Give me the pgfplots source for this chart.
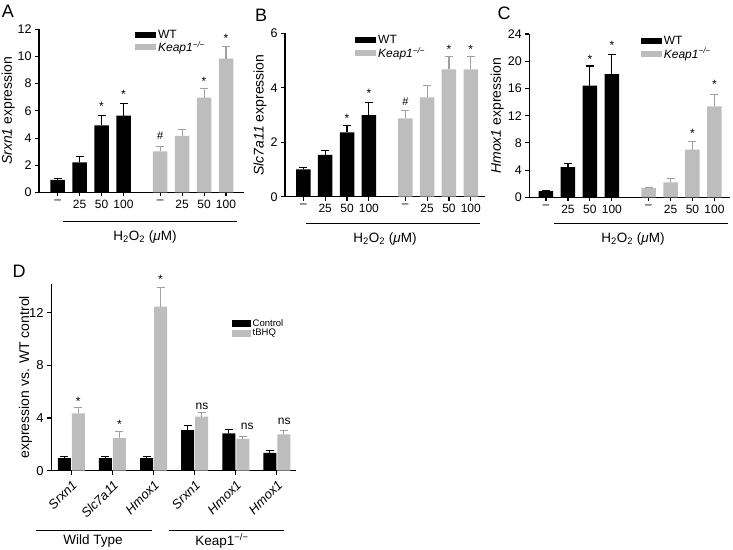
\documentclass[border=0pt]{standalone}
\usepackage{fontspec}
\setmainfont{Liberation Sans}
\usepackage{pgfplots}
\pgfplotsset{compat=1.18}
\definecolor{barg}{RGB}{189,189,189}
\definecolor{errg}{RGB}{160,160,160}
\newcommand{\fs}[1]{\fontsize{#1}{#1}\selectfont}
\newcommand{\KO}{\textit{Keap1}\textsuperscript{\textit{−/−}}}
\pgfplotsset{
  panel/.style={
    scale only axis, anchor=south west, clip=false,
    axis x line*=bottom, axis y line*=left,
    axis line style={line width=1.1pt, -},
    tick align=outside, major tick length=4pt,
    every tick/.style={line width=1.1pt, black},
    ymin=0,
    /pgf/number format/assume math mode=true,
    yticklabel style={font=\fs{12.5}},
    xticklabel style={font=\fs{12}},
    legend cell align=left,
    legend style={draw=none, fill=none, font=\fs{12}, inner sep=0pt, row sep=-2pt},
  },
  h2o2/.style={
    xtick={0,1,2,3,4.67,5.67,6.67,7.67},
    xticklabels={--,25,50,100,--,25,50,100},
  },
  ylab/.style={every axis y label/.style={at={(axis description cs:#1,0.5)}, rotate=90, anchor=center, font=\fs{14}}},
  wt/.style={ybar, bar shift=0pt, bar width=#1, fill=black, draw=none,
    legend image code/.code={\fill[black] (0pt,-3pt) rectangle (21pt,3pt);},
    error bars/.cd, y dir=plus, y explicit,
    error bar style={line width=1.1pt, black},
    error mark options={rotate=90, mark size=4pt, line width=1.1pt, black}},
  ko/.style={ybar, bar shift=0pt, bar width=#1, fill=barg, draw=none,
    legend image code/.code={\fill[barg] (0pt,-3pt) rectangle (21pt,3pt);},
    error bars/.cd, y dir=plus, y explicit,
    error bar style={line width=1.1pt, errg},
    error mark options={rotate=90, mark size=4pt, line width=1.1pt, errg}},
}
\begin{document}
\begin{tikzpicture}
\path[use as bounding box] (0,0) rectangle (733pt,549pt);

% ---------------- A ----------------
\begin{axis}[panel, h2o2, at={(39pt,356.5pt)}, width=205pt, height=163.3pt,
  xmin=-0.85, xmax=8.49, ymax=12, ytick={0,2,...,12},
  ylabel={\textit{Srxn1} expression}, ylab=-0.15,
  legend style={at={(axis description cs:0.468,1.01)}, anchor=north west}]
\addplot[wt=14.5pt] coordinates {(0,0.93) +- (0,0.1) (1,2.22) +- (0,0.4) (2,4.93) +- (0,0.76) (3,5.64) +- (0,0.89)};
\addplot[ko=14.5pt] coordinates {(4.67,3.02) +- (0,0.37) (5.67,4.17) +- (0,0.47) (6.67,6.97) +- (0,0.64) (7.67,9.84) +- (0,0.88)};
\legend{WT,\KO}
\node[font=\fs{12}] at (axis cs:2,6.3) {*};
\node[font=\fs{12}] at (axis cs:3,7.2) {*};
\node[font=\fs{11}] at (axis cs:4.67,4.15) {\#};
\node[font=\fs{12}] at (axis cs:6.67,8.2) {*};
\node[font=\fs{12}] at (axis cs:7.67,11.3) {*};
\end{axis}

% ---------------- B ----------------
\begin{axis}[panel, h2o2, at={(285pt,352.3pt)}, width=200pt, height=163.3pt,
  xmin=-0.84, xmax=8.32, ymax=6, ytick={0,2,4,6},
  ylabel={\textit{Slc7a11} expression}, ylab=-0.125,
  legend style={at={(axis description cs:0.35,1.0)}, anchor=north west}]
\addplot[wt=14.5pt] coordinates {(0,1.0) +- (0,0.08) (1,1.54) +- (0,0.16) (2,2.36) +- (0,0.26) (3,3.0) +- (0,0.46)};
\addplot[ko=14.5pt] coordinates {(4.67,2.88) +- (0,0.28) (5.67,3.65) +- (0,0.45) (6.67,4.68) +- (0,0.47) (7.67,4.68) +- (0,0.47)};
\legend{WT,\KO}
\node[font=\fs{12}] at (axis cs:2,2.88) {*};
\node[font=\fs{12}] at (axis cs:3,3.78) {*};
\node[font=\fs{11}] at (axis cs:4.67,3.5) {\#};
\node[font=\fs{12}] at (axis cs:6.67,5.42) {*};
\node[font=\fs{12}] at (axis cs:7.67,5.42) {*};
\end{axis}

% ---------------- C ----------------
\begin{axis}[panel, h2o2, at={(529.3pt,351.7pt)}, width=200.7pt, height=163.3pt,
  xmin=-0.76, xmax=8.38, ymax=24, ytick={0,4,...,24},
  ylabel={\textit{Hmox1} expression}, ylab=-0.16,
  legend style={at={(axis description cs:0.555,1.0)}, anchor=north west}]
\addplot[wt=14.5pt] coordinates {(0,0.9) +- (0,0.13) (1,4.42) +- (0,0.5) (2,16.4) +- (0,2.9) (3,18.1) +- (0,2.95)};
\addplot[ko=14.5pt] coordinates {(4.67,1.33) +- (0,0.15) (5.67,2.2) +- (0,0.6) (6.67,7.0) +- (0,1.2) (7.67,13.35) +- (0,1.7)};
\legend{WT,\KO}
\node[font=\fs{12}] at (axis cs:2,20.2) {*};
\node[font=\fs{12}] at (axis cs:3,22.4) {*};
\node[font=\fs{12}] at (axis cs:6.67,9.4) {*};
\node[font=\fs{12}] at (axis cs:7.67,16.6) {*};
\end{axis}

% ---------------- D ----------------
\begin{axis}[panel, at={(51.2pt,78.3pt)}, width=245pt, height=187pt,
  xmin=-0.49, xmax=5.47, ymax=14.2, ytick={0,4,8,12},
  xtick={0,1,2,3,4,5},
  xticklabels={Srxn1,Slc7a11,Hmox1,Srxn1,Hmox1,Hmox1},
  xticklabel style={rotate=45, anchor=north east, font=\fs{13}\itshape},
  yticklabel style={font=\fs{13}},
  ylabel={expression vs. WT control}, ylab=-0.105,
  legend style={at={(axis description cs:0.736,0.82)}, anchor=north west, font=\fs{9.5}, row sep=-3pt}]
\addplot[wt=13pt, /pgfplots/legend image code/.code={\fill[black] (0pt,-3.5pt) rectangle (19pt,3.5pt);}] coordinates {(-0.17,0.95) +- (0,0.1) (0.83,0.95) +- (0,0.1) (1.83,0.95) +- (0,0.12) (2.83,3.08) +- (0,0.33) (3.83,2.83) +- (0,0.3) (4.83,1.36) +- (0,0.16)};
\addplot[ko=13pt, /pgfplots/legend image code/.code={\fill[barg] (0pt,-3.5pt) rectangle (19pt,3.5pt);}] coordinates {(0.17,4.35) +- (0,0.45) (1.17,2.47) +- (0,0.48) (2.17,12.45) +- (0,1.45) (3.17,4.1) +- (0,0.3) (4.17,2.42) +- (0,0.16) (5.17,2.75) +- (0,0.28)};
\legend{Control,tBHQ}
\node[font=\fs{12}] at (axis cs:0.17,5.3) {*};
\node[font=\fs{12}] at (axis cs:1.17,3.55) {*};
\node[font=\fs{12}] at (axis cs:2.17,14.55) {*};
\node[font=\fs{12}] at (axis cs:3.18,4.9) {ns};
\node[font=\fs{12}] at (axis cs:4.28,3.4) {ns};
\node[font=\fs{12}] at (axis cs:5.18,3.75) {ns};
\end{axis}

% ---------------- annotations ----------------
\begin{scope}[line width=1pt]
\draw (63pt,327pt) -- (237pt,327pt);
\draw (306pt,325pt) -- (480pt,325pt);
\draw (554pt,325pt) -- (728pt,325pt);
\draw (36pt,19pt) -- (152pt,19pt);
\draw (169pt,19pt) -- (284pt,19pt);
\end{scope}
\node[font=\fs{13.5}] at (145pt,312pt) {H\textsubscript{2}O\textsubscript{2} (\textit{μ}M)};
\node[font=\fs{13.5}] at (385pt,310pt) {H\textsubscript{2}O\textsubscript{2} (\textit{μ}M)};
\node[font=\fs{13.5}] at (633pt,310pt) {H\textsubscript{2}O\textsubscript{2} (\textit{μ}M)};
\node[font=\fs{13.5}] at (93pt,8pt) {Wild Type};
\node[font=\fs{13.5}] at (222pt,8pt) {Keap1\textsuperscript{−/−}};
\node[font=\fs{18}] at (8pt,538pt) {A};
\node[font=\fs{18}] at (261pt,534pt) {B};
\node[font=\fs{18}] at (504pt,536pt) {C};
\node[font=\fs{18}] at (19pt,278pt) {D};
\end{tikzpicture}
\end{document}
